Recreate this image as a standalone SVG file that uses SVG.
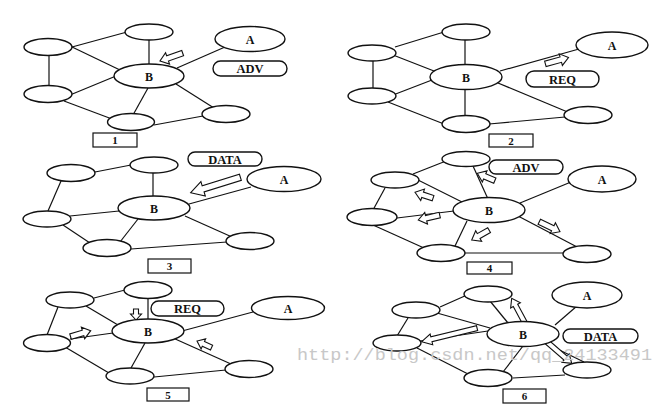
<svg xmlns="http://www.w3.org/2000/svg" width="657" height="412" viewBox="0 0 657 412">
<style>
.bg{fill:#fff}
.e{fill:#fff;stroke:#111;stroke-width:1.4}
.ln line{stroke:#111;stroke-width:1.2;fill:none}
.pill{fill:#fff;stroke:#111;stroke-width:1.4}
.box{fill:#fff;stroke:#111;stroke-width:1.2}
.ha{fill:#fff;stroke:#111;stroke-width:1.1;stroke-linejoin:miter}
.nt{font-family:"Liberation Serif",serif;font-weight:bold;font-size:12px;fill:#111;text-anchor:middle}
.pt{font-family:"Liberation Serif",serif;font-weight:bold;font-size:12.5px;fill:#111;text-anchor:middle}
.bt{font-family:"Liberation Serif",serif;font-weight:bold;font-size:11px;fill:#111;text-anchor:middle}
.wm{font-family:"Liberation Mono",monospace;font-size:17px;fill:#c8c8c8}
</style>
<rect class="bg" x="0" y="0" width="657" height="412"/>

<!-- Panel 1 -->
<g id="panel1">
<g id="p1-connectors" class="ln">
<line x1="72" y1="47" x2="127" y2="32"/>
<line x1="70" y1="46" x2="120" y2="70"/>
<line x1="49" y1="55" x2="49" y2="86"/>
<line x1="149" y1="40" x2="149" y2="64"/>
<line x1="225" y1="47" x2="177" y2="68"/>
<line x1="70" y1="95" x2="116" y2="76"/>
<line x1="64" y1="101" x2="112" y2="119"/>
<line x1="148" y1="88" x2="133" y2="115"/>
<line x1="176" y1="84" x2="214" y2="108"/>
<line x1="154" y1="125" x2="203" y2="116"/>
<path class="ha" transform="translate(160,61) rotate(160.8)" d="M0,0 L-8,-6 L-8,-2.8 L-24,-2.8 L-24,2.8 L-8,2.8 L-8,6 Z"/>
</g>
<g id="p1-tl"><ellipse class="e" cx="48" cy="47" rx="24" ry="8.5"/></g>
<g id="p1-tm"><ellipse class="e" cx="149" cy="32" rx="24" ry="8"/></g>
<g id="p1-a"><ellipse class="e" cx="250" cy="39" rx="35" ry="12.5"/><text class="nt" x="250" y="43.5">A</text></g>
<g id="p1-b"><ellipse class="e" cx="149" cy="76" rx="35" ry="12"/><text class="nt" x="149" y="80.5">B</text></g>
<g id="p1-lm"><ellipse class="e" cx="48" cy="94" rx="24" ry="8.5"/></g>
<g id="p1-bm"><ellipse class="e" cx="131" cy="122" rx="23.5" ry="8.5"/></g>
<g id="p1-br"><ellipse class="e" cx="226" cy="114" rx="24" ry="8.5"/></g>
<g id="p1-msg"><rect class="pill" x="213" y="61" width="74" height="15" rx="7.5"/><text class="pt" x="250" y="73">ADV</text></g>
<g id="p1-label"><rect class="box" x="93" y="133" width="44" height="14"/><text class="bt" x="115" y="144">1</text></g>
</g>

<!-- Panel 2 -->
<g id="panel2">
<g id="p2-connectors" class="ln">
<line x1="395" y1="47" x2="444" y2="32"/>
<line x1="393" y1="55" x2="434" y2="71"/>
<line x1="373" y1="61" x2="373" y2="88"/>
<line x1="465" y1="40" x2="465" y2="65"/>
<line x1="500" y1="71" x2="579" y2="49"/>
<line x1="393" y1="95" x2="432" y2="80"/>
<line x1="388" y1="102" x2="444" y2="124"/>
<line x1="465" y1="90" x2="465" y2="116"/>
<line x1="498" y1="83" x2="570" y2="113"/>
<line x1="489" y1="124" x2="565" y2="117"/>
<path class="ha" transform="translate(568.5,57.5) rotate(-15.5)" d="M0,0 L-8,-6 L-8,-2.8 L-24,-2.8 L-24,2.8 L-8,2.8 L-8,6 Z"/>
</g>
<g id="p2-tl"><ellipse class="e" cx="372" cy="53" rx="24" ry="8"/></g>
<g id="p2-tm"><ellipse class="e" cx="466" cy="32" rx="24" ry="8"/></g>
<g id="p2-a"><ellipse class="e" cx="612" cy="45" rx="36" ry="13"/><text class="nt" x="612" y="49.5">A</text></g>
<g id="p2-b"><ellipse class="e" cx="466" cy="77" rx="36" ry="12.5"/><text class="nt" x="466" y="81.5">B</text></g>
<g id="p2-lm"><ellipse class="e" cx="372" cy="96" rx="24" ry="8"/></g>
<g id="p2-bm"><ellipse class="e" cx="466" cy="124" rx="24" ry="8.5"/></g>
<g id="p2-br"><ellipse class="e" cx="588" cy="115" rx="24" ry="8.5"/></g>
<g id="p2-msg"><rect class="pill" x="526" y="71" width="73" height="16" rx="8"/><text class="pt" x="562.5" y="83.5">REQ</text></g>
<g id="p2-label"><rect class="box" x="489" y="134" width="44" height="13"/><text class="bt" x="511" y="144.5">2</text></g>
</g>

<!-- Panel 3 -->
<g id="panel3">
<g id="p3-connectors" class="ln">
<line x1="95" y1="172" x2="131" y2="165"/>
<line x1="61" y1="181" x2="48" y2="211"/>
<line x1="153" y1="173" x2="153" y2="197"/>
<line x1="251" y1="187" x2="189" y2="204"/>
<line x1="70" y1="216" x2="119" y2="211"/>
<line x1="63" y1="225" x2="90" y2="243"/>
<line x1="138" y1="219" x2="120" y2="242"/>
<line x1="185" y1="216" x2="232" y2="237"/>
<line x1="131" y1="249" x2="227" y2="242"/>
<path class="ha" transform="translate(190.7,192.7) rotate(162.8)" d="M0,0 L-13,-7.5 L-13,-3.2 L-52,-3.2 L-52,3.2 L-13,3.2 L-13,7.5 Z"/>
</g>
<g id="p3-tl"><ellipse class="e" cx="71" cy="173" rx="24" ry="8.5"/></g>
<g id="p3-tm"><ellipse class="e" cx="154" cy="165" rx="24" ry="8"/></g>
<g id="p3-a"><ellipse class="e" cx="284" cy="179" rx="37" ry="12.5"/><text class="nt" x="284" y="183.5">A</text></g>
<g id="p3-b"><ellipse class="e" cx="154" cy="208" rx="36" ry="12"/><text class="nt" x="154" y="212.5">B</text></g>
<g id="p3-lm"><ellipse class="e" cx="47" cy="219" rx="24" ry="8"/></g>
<g id="p3-bm"><ellipse class="e" cx="107" cy="248" rx="24" ry="8.5"/></g>
<g id="p3-br"><ellipse class="e" cx="250" cy="241" rx="24" ry="8.5"/></g>
<g id="p3-msg"><rect class="pill" x="188" y="152" width="74" height="14" rx="7"/><text class="pt" x="225" y="163.5">DATA</text></g>
<g id="p3-label"><rect class="box" x="148" y="259" width="43" height="14"/><text class="bt" x="169.5" y="270">3</text></g>
</g>

<!-- Panel 4 -->
<g id="panel4">
<g id="p4-connectors" class="ln">
<line x1="413" y1="174" x2="446" y2="161"/>
<line x1="385" y1="188" x2="373" y2="210"/>
<line x1="473" y1="166" x2="488" y2="199"/>
<line x1="418" y1="180" x2="462" y2="202"/>
<line x1="571" y1="182" x2="520" y2="203"/>
<line x1="397" y1="218" x2="454" y2="211"/>
<line x1="373" y1="225" x2="424" y2="248"/>
<line x1="467" y1="221" x2="455" y2="246"/>
<line x1="518" y1="216" x2="579" y2="248"/>
<line x1="465" y1="253" x2="563" y2="253"/>
<path class="ha" transform="translate(477.3,173.3) rotate(-157.3)" d="M0,0 L-8,-6 L-8,-2.8 L-19,-2.8 L-19,2.8 L-8,2.8 L-8,6 Z"/>
<path class="ha" transform="translate(415,192.3) rotate(-161.8)" d="M0,0 L-8,-6 L-8,-2.8 L-19,-2.8 L-19,2.8 L-8,2.8 L-8,6 Z"/>
<path class="ha" transform="translate(418.3,220) rotate(167)" d="M0,0 L-8,-6 L-8,-2.8 L-22,-2.8 L-22,2.8 L-8,2.8 L-8,6 Z"/>
<path class="ha" transform="translate(471.7,240) rotate(150.4)" d="M0,0 L-8,-6 L-8,-2.8 L-20,-2.8 L-20,2.8 L-8,2.8 L-8,6 Z"/>
<path class="ha" transform="translate(560,231.7) rotate(25.8)" d="M0,0 L-8,-6 L-8,-2.8 L-23,-2.8 L-23,2.8 L-8,2.8 L-8,6 Z"/>
</g>
<g id="p4-tm"><ellipse class="e" cx="466" cy="159" rx="24" ry="7.5"/></g>
<g id="p4-tl"><ellipse class="e" cx="395" cy="180" rx="24" ry="8"/></g>
<g id="p4-a"><ellipse class="e" cx="602" cy="179" rx="34" ry="13"/><text class="nt" x="602" y="183.5">A</text></g>
<g id="p4-b"><ellipse class="e" cx="489" cy="210" rx="36" ry="12.5"/><text class="nt" x="489" y="214.5">B</text></g>
<g id="p4-lm"><ellipse class="e" cx="372" cy="217" rx="25" ry="8.5"/></g>
<g id="p4-bm"><ellipse class="e" cx="441" cy="253" rx="24" ry="8.5"/></g>
<g id="p4-br"><ellipse class="e" cx="587" cy="254" rx="24" ry="8.5"/></g>
<g id="p4-msg"><rect class="pill" x="489" y="160" width="74" height="14" rx="7"/><text class="pt" x="526" y="171.5">ADV</text></g>
<g id="p4-label"><rect class="box" x="467" y="262" width="45" height="12"/><text class="bt" x="489.5" y="272">4</text></g>
</g>

<!-- Panel 5 -->
<g id="panel5">
<g id="p5-connectors" class="ln">
<line x1="94" y1="298" x2="125" y2="290"/>
<line x1="58" y1="307" x2="47" y2="335"/>
<line x1="86" y1="306" x2="118" y2="325"/>
<line x1="148" y1="299" x2="148" y2="319"/>
<line x1="253" y1="312" x2="182" y2="331"/>
<line x1="70" y1="339" x2="113" y2="333"/>
<line x1="65" y1="347" x2="109" y2="373"/>
<line x1="145" y1="343" x2="131" y2="368"/>
<line x1="173" y1="338" x2="231" y2="364"/>
<line x1="154" y1="377" x2="226" y2="370"/>
<path class="ha" transform="translate(136,320) rotate(90)" d="M0,0 L-6,-5.5 L-6,-2.5 L-11,-2.5 L-11,2.5 L-6,2.5 L-6,5.5 Z"/>
<path class="ha" transform="translate(90.7,330.7) rotate(-16.2)" d="M0,0 L-8,-6 L-8,-2.8 L-21,-2.8 L-21,2.8 L-8,2.8 L-8,6 Z"/>
<path class="ha" transform="translate(197,341) rotate(-155.5)" d="M0,0 L-7,-5.5 L-7,-2.6 L-16,-2.6 L-16,2.6 L-7,2.6 L-7,5.5 Z"/>
</g>
<g id="p5-tl"><ellipse class="e" cx="70" cy="300" rx="24" ry="8"/></g>
<g id="p5-tm"><ellipse class="e" cx="148" cy="290" rx="24" ry="8.5"/></g>
<g id="p5-a"><ellipse class="e" cx="288" cy="308" rx="36.5" ry="11.5"/><text class="nt" x="288" y="312.5">A</text></g>
<g id="p5-b"><ellipse class="e" cx="148" cy="331" rx="36" ry="12"/><text class="nt" x="148" y="335.5">B</text></g>
<g id="p5-lm"><ellipse class="e" cx="47" cy="343" rx="23.5" ry="8.5"/></g>
<g id="p5-bm"><ellipse class="e" cx="130" cy="376" rx="24" ry="8"/></g>
<g id="p5-br"><ellipse class="e" cx="249" cy="369" rx="24" ry="8.5"/></g>
<g id="p5-msg"><rect class="pill" x="151" y="301" width="73" height="15" rx="7.5"/><text class="pt" x="187.5" y="313">REQ</text></g>
<g id="p5-label"><rect class="box" x="147" y="388" width="42" height="13"/><text class="bt" x="168" y="398.5">5</text></g>
</g>

<!-- Panel 6 -->
<g id="panel6">
<g id="p6-connectors" class="ln">
<line x1="440" y1="307" x2="467" y2="295"/>
<line x1="408" y1="318" x2="397" y2="336"/>
<line x1="437" y1="313" x2="490" y2="328"/>
<line x1="490" y1="301" x2="508" y2="323"/>
<line x1="577" y1="306" x2="555" y2="325"/>
<line x1="420" y1="341" x2="488" y2="331"/>
<line x1="417" y1="348" x2="470" y2="375"/>
<line x1="523" y1="346" x2="503" y2="372"/>
<line x1="543" y1="342" x2="584" y2="362"/>
<line x1="513" y1="378" x2="565" y2="375"/>
<path class="ha" transform="translate(511.7,298.3) rotate(-118.2)" d="M0,0 L-8,-5.5 L-8,-2.5 L-30,-2.5 L-30,2.5 L-8,2.5 L-8,5.5 Z"/>
<path class="ha" transform="translate(421.7,341.7) rotate(166.3)" d="M0,0 L-10,-5.5 L-10,-2.5 L-57,-2.5 L-57,2.5 L-10,2.5 L-10,5.5 Z"/>
<path class="ha" transform="translate(571.7,363.3) rotate(40.8)" d="M0,0 L-8,-5.5 L-8,-2.5 L-33,-2.5 L-33,2.5 L-8,2.5 L-8,5.5 Z"/>
</g>
<g id="p6-tm"><ellipse class="e" cx="488" cy="294" rx="24" ry="8"/></g>
<g id="p6-a"><ellipse class="e" cx="587" cy="295" rx="35" ry="13"/><text class="nt" x="587" y="299.5">A</text></g>
<g id="p6-tl"><ellipse class="e" cx="416" cy="310" rx="24" ry="8"/></g>
<g id="p6-b"><ellipse class="e" cx="523" cy="334" rx="36" ry="12.5"/><text class="nt" x="523" y="338.5">B</text></g>
<g id="p6-lm"><ellipse class="e" cx="397" cy="343" rx="24" ry="8"/></g>
<g id="p6-bm"><ellipse class="e" cx="488" cy="378" rx="24" ry="8.5"/></g>
<g id="p6-br"><ellipse class="e" cx="587" cy="370" rx="24" ry="8"/></g>
<g id="p6-msg"><rect class="pill" x="563" y="329" width="75" height="14" rx="7"/><text class="pt" x="600.5" y="340.5">DATA</text></g>
<g id="p6-label"><rect class="box" x="503" y="389" width="43" height="14"/><text class="bt" x="524.5" y="400">6</text></g>
</g>

<text class="wm" x="297" y="360" textLength="355" lengthAdjust="spacingAndGlyphs">http://blog.csdn.net/qq_24133491</text>
</svg>
